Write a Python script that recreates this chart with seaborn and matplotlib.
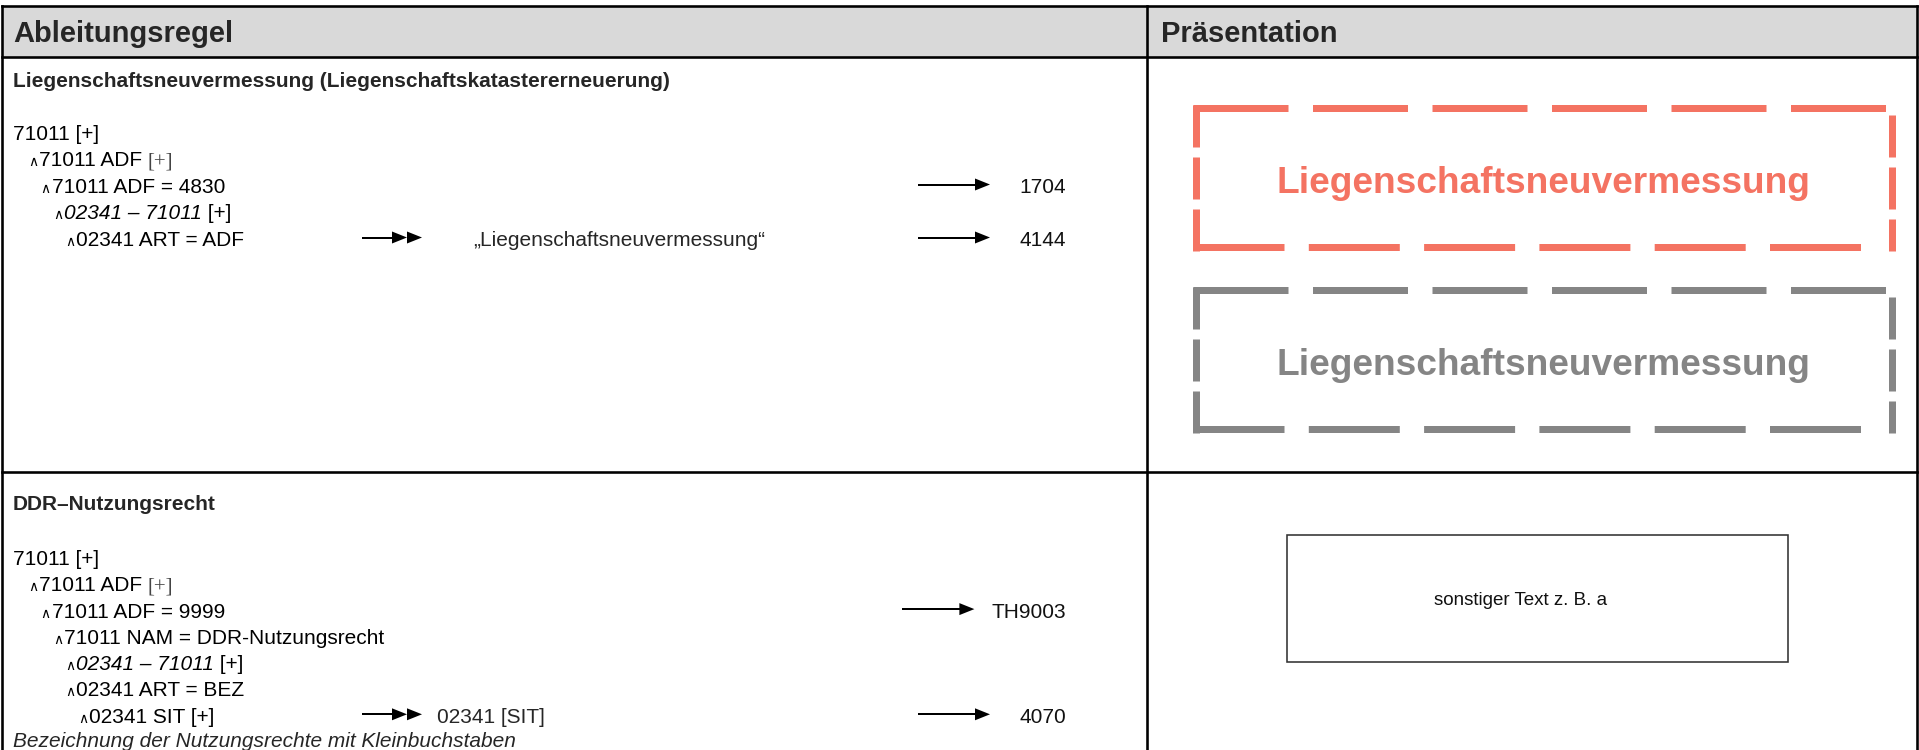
import matplotlib
matplotlib.use("Agg")
import matplotlib.pyplot as plt
import seaborn as sns
from matplotlib.font_manager import FontProperties
from matplotlib.patches import Rectangle, Polygon

sns.set_theme(style="white")
plt.rcParams["font.family"] = ["Liberation Sans", "DejaVu Sans"]
plt.rcParams["lines.scale_dashes"] = False

# ---------------- content ----------------
HEADERS = ["Ableitungsregel", "Präsentation"]
SECTION_TITLES = ["Liegenschaftsneuvermessung (Liegenschaftskatastererneuerung)",
                  "DDR–Nutzungsrecht"]

# (indent level, [(text, style)])  style: n=normal, i=italic, s=serif
RULE1_LINES = [
    (0, [("71011 [+]", "n")]),
    (1, [("71011 ADF ", "n"), ("[+]", "s")]),
    (2, [("71011 ADF = 4830", "n")]),
    (3, [("02341 – 71011", "i"), (" [+]", "n")]),
    (4, [("02341 ART = ADF", "n")]),
]
RULE1_RESULTS = [None, None, None, None, "„Liegenschaftsneuvermessung“"]
RULE1_CODES = [None, None, "1704", None, "4144"]

RULE2_LINES = [
    (0, [("71011 [+]", "n")]),
    (1, [("71011 ADF ", "n"), ("[+]", "s")]),
    (2, [("71011 ADF = 9999", "n")]),
    (3, [("71011 NAM = DDR-Nutzungsrecht", "n")]),
    (4, [("02341 – 71011", "i"), (" [+]", "n")]),
    (4, [("02341 ART = BEZ", "n")]),
    (5, [("02341 SIT [+]", "n")]),
]
RULE2_RESULTS = [None, None, None, None, None, None, "02341 [SIT]"]
RULE2_CODES = [None, None, "TH9003", None, None, None, "4070"]
RULE2_NOTE = "Bezeichnung der Nutzungsrechte mit Kleinbuchstaben"

PRESENTATION_LABELS = ["Liegenschaftsneuvermessung", "Liegenschaftsneuvermessung"]
PRESENTATION_COLORS = ["#F47362", "#858585"]
OTHER_TEXT = "sonstiger Text z. B. a"

# ---------------- layout ----------------
W, H = 1919, 750
PT = 0.72  # pixel -> point at dpi 100
fig = plt.figure(figsize=(W / 100, H / 100), dpi=100)
ax = fig.add_axes([0, 0, 1, 1])
ax.set_xlim(0, W)
ax.set_ylim(H, 0)
ax.axis("off")
renderer = fig.canvas.get_renderer()

BODY = 15
STYLES = {
    "n": dict(family="Liberation Sans", style="normal", weight="normal", color="black"),
    "i": dict(family="Liberation Sans", style="italic", weight="normal", color="black"),
    "s": dict(family="Liberation Serif", style="normal", weight="normal", color="#444444"),
}


def width(txt, size, st):
    fp = FontProperties(family=st["family"], style=st["style"], weight=st["weight"], size=size)
    w1, _, _ = renderer.get_text_width_height_descent("|" + txt + "|", fp, ismath=False)
    w0, _, _ = renderer.get_text_width_height_descent("||", fp, ismath=False)
    return w1 - w0


def draw_segments(x, yb, segs, size=BODY):
    for txt, s in segs:
        st = STYLES[s]
        ax.text(x, yb, txt, fontsize=size, va="baseline", ha="left",
                family=st["family"], style=st["style"], weight=st["weight"], color=st["color"])
        x += width(txt, size, st)


def arrow(x0, x1, y, heads=1):
    hl, hh = 15, 6
    ax.plot([x0, x1 - heads * hl + 1], [y, y], color="black", lw=2 * PT,
            solid_capstyle="butt")
    for k in range(heads):
        tip = x1 - k * hl
        ax.add_patch(Polygon([(tip - hl, y - hh), (tip, y), (tip - hl, y + hh)],
                             closed=True, facecolor="black", edgecolor="none"))


# table frame
L, R, TOP, HEAD_B, ROW1_B, MID = 2, 1917, 6, 57, 472, 1147
ax.add_patch(Rectangle((L, TOP), R - L, HEAD_B - TOP, facecolor="#D9D9D9", edgecolor="none"))
lw_tab = 2.6 * PT
for y in (TOP, HEAD_B, ROW1_B):
    ax.plot([L, R], [y, y], color="black", lw=lw_tab, solid_capstyle="projecting")
for x in (L, MID, R):
    ax.plot([x, x], [TOP, H + 5], color="black", lw=lw_tab, solid_capstyle="projecting")

PAD = L + 11
# headers
ax.text(PAD, 42, HEADERS[0], fontsize=21, weight="bold", va="baseline", ha="left")
ax.text(MID + 14, 42, HEADERS[1], fontsize=21, weight="bold", va="baseline", ha="left")

CAP = BODY * 100 / 72 * 0.716 / 2  # half cap height in px


def text_x(level):
    return PAD if level == 0 else PAD + 26 + 12.5 * (level - 1)


def draw_rule(title, title_y, first_y, step, lines, results, codes, res_x):
    ax.text(PAD, title_y + CAP, title, fontsize=BODY, weight="bold",
            va="baseline", ha="left")
    for i, (lvl, segs) in enumerate(lines):
        yc = first_y + i * step
        yb = yc + CAP
        tx = text_x(lvl)
        if lvl > 0:
            ax.text(tx - 11, yb, "∧", fontsize=10, family="DejaVu Sans",
                    va="baseline", ha="left", color="black")
        draw_segments(tx, yb, segs)
        if results[i] is not None:
            arrow(362, 422, yc - 1, heads=2)
            ax.text(res_x, yb, results[i], fontsize=BODY, va="baseline", ha="left")
        if codes[i] is not None:
            ax.text(1066, yb, codes[i], fontsize=BODY, va="baseline", ha="right",
                    color="#111111")
            tw = width(codes[i], BODY, STYLES["n"])
            end = min(990, 1066 - tw - 17)
            arrow(end - 72, end, yc - 1, heads=1)


draw_rule(SECTION_TITLES[0], 80, 132.5, 26.5, RULE1_LINES, RULE1_RESULTS, RULE1_CODES, 473)
draw_rule(SECTION_TITLES[1], 503, 557.5, 26.3, RULE2_LINES, RULE2_RESULTS, RULE2_CODES, 437)
ax.text(PAD, 740 + CAP, RULE2_NOTE, fontsize=BODY, style="italic", va="baseline", ha="left")


# presentation: dashed boxes
def dashed_box(left, top, right, bottom, color):
    lw = 7
    kw = dict(color=color, lw=lw * PT, dash_capstyle="butt", solid_capstyle="butt")
    ax.plot([left - lw / 2, right - 6], [top, top],
            linestyle=(0, (95 * PT, 24.5 * PT)), **kw)
    ax.plot([left - lw / 2, right - 30], [bottom, bottom],
            linestyle=(0, (91 * PT, 24.3 * PT)), **kw)
    ax.plot([left, left], [top - lw / 2, bottom + lw / 2],
            linestyle=(0, (42 * PT, 10 * PT)), **kw)
    ax.plot([right, right], [top + 7, bottom + lw / 2],
            linestyle=(0, (42 * PT, 10 * PT)), **kw)


BOX_L, BOX_R, BOX_H = 1196, 1891.5, 139
BOX_TOPS = [108, 290]
BIG = 26.7
for top, label, col in zip(BOX_TOPS, PRESENTATION_LABELS, PRESENTATION_COLORS):
    dashed_box(BOX_L, top, BOX_R, top + BOX_H, col)
    yc = top + BOX_H / 2
    ax.text((BOX_L + BOX_R) / 2, yc + BIG * 100 / 72 * 0.716 / 2 + 2, label, fontsize=BIG,
            weight="bold", color=col, va="baseline", ha="center")

# plain box
ax.add_patch(Rectangle((1287, 535), 1788 - 1287, 662 - 535, facecolor="none",
                       edgecolor="#333333", lw=1.6 * PT))
ax.text(1521, 598 + 13.5 * 100 / 72 * 0.716 / 2, OTHER_TEXT, fontsize=13.5,
        va="baseline", ha="center", color="#111111")

fig.savefig("out.png", dpi=100, facecolor="white")
